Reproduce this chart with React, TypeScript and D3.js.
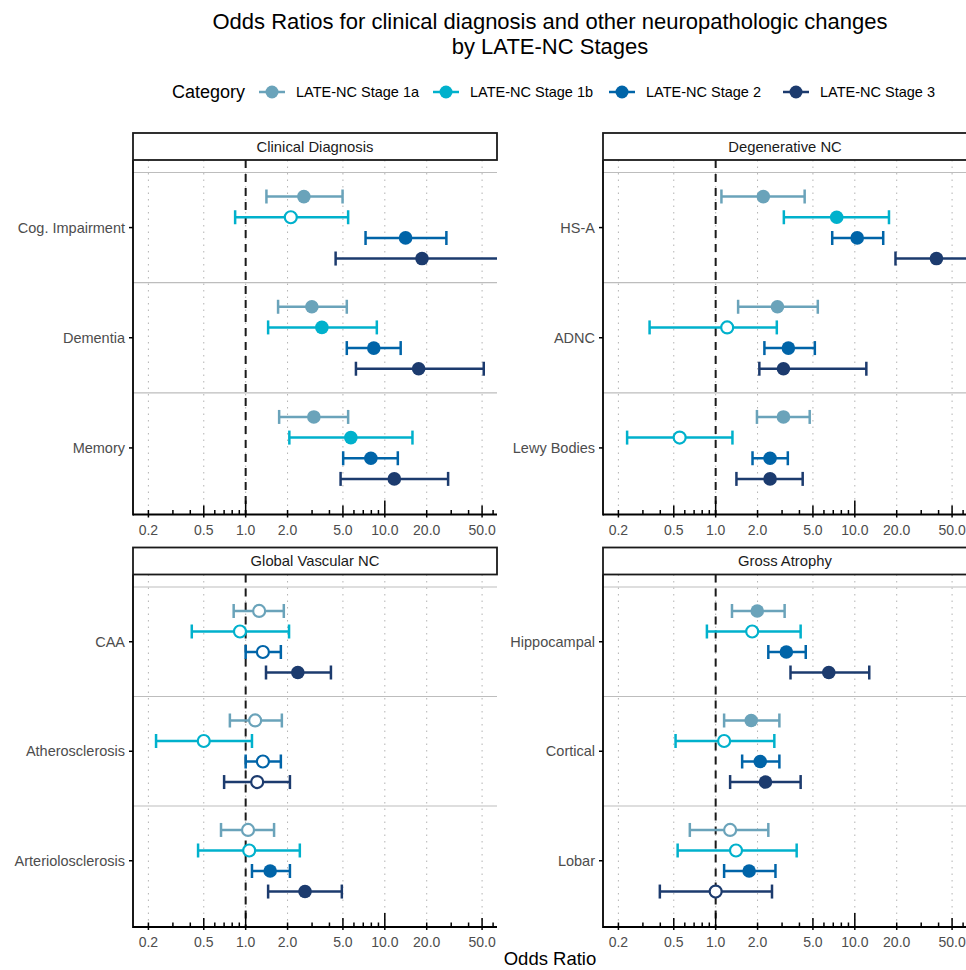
import React, { useEffect, useRef } from 'react';
import * as d3 from 'd3';

const stages = ['LATE-NC Stage 1a', 'LATE-NC Stage 1b', 'LATE-NC Stage 2', 'LATE-NC Stage 3'];
const stageColors = ['#6aa3ba', '#00b1cc', '#0064a8', '#1c3b6e'];

const panelTitles = ['Clinical Diagnosis', 'Degenerative NC', 'Global Vascular NC', 'Gross Atrophy'];

// Clinical Diagnosis
const clinicalCats = ['Cog. Impairment', 'Dementia', 'Memory'];
const clinicalOR = [[2.62, 2.11, 14.1, 18.5], [2.99, 3.53, 8.33, 17.5], [3.09, 5.7, 7.94, 11.7]];
const clinicalLo = [[1.41, 0.84, 7.27, 4.43], [1.71, 1.45, 5.33, 6.2], [1.74, 2.06, 5.02, 4.81]];
const clinicalHi = [[4.97, 5.45, 27.7, 80], [5.33, 8.76, 13.0, 51.4], [5.45, 15.8, 12.4, 28.5]];
const clinicalSig = [[true, false, true, true], [true, true, true, true], [true, true, true, true]];

// Degenerative NC
const degenCats = ['HS-A', 'ADNC', 'Lewy Bodies'];
const degenOR = [[2.2, 7.41, 10.4, 38.6], [2.78, 1.21, 3.33, 3.07], [3.07, 0.551, 2.46, 2.46]];
const degenLo = [[1.1, 3.09, 6.88, 19.6], [1.45, 0.335, 2.24, 2.06], [1.98, 0.231, 1.84, 1.41]];
const degenHi = [[4.36, 17.6, 16.0, 100], [5.42, 2.75, 5.16, 12.1], [4.74, 1.32, 3.3, 4.22]];
const degenSig = [[true, true, true, true], [true, false, true, true], [true, false, true, true]];

// Global Vascular NC
const vascCats = ['CAA', 'Atherosclerosis', 'Arteriolosclerosis'];
const vascOR = [[1.25, 0.91, 1.33, 2.37], [1.17, 0.5, 1.33, 1.21], [1.04, 1.06, 1.5, 2.67]];
const vascLo = [[0.82, 0.41, 1.0, 1.4], [0.77, 0.227, 1.0, 0.7], [0.665, 0.455, 1.11, 1.45]];
const vascHi = [[1.88, 2.05, 1.79, 4.1], [1.82, 1.11, 1.79, 2.08], [1.6, 2.45, 2.08, 4.91]];
const vascSig = [[false, false, false, true], [false, false, false, false], [false, false, true, true]];

// Gross Atrophy
const atrophyCats = ['Hippocampal', 'Cortical', 'Lobar'];
const atrophyOR = [[1.99, 1.83, 3.22, 6.5], [1.8, 1.15, 2.09, 2.28], [1.27, 1.4, 1.74, 1.0]];
const atrophyLo = [[1.31, 0.865, 2.39, 3.45], [1.15, 0.515, 1.55, 1.27], [0.652, 0.533, 1.15, 0.397]];
const atrophyHi = [[3.13, 4.08, 4.44, 12.7], [2.87, 2.64, 2.87, 4.08], [2.39, 3.82, 2.69, 2.54]];
const atrophySig = [[true, false, true, true], [true, false, true, true], [false, false, true, false]];

const xBreaks = [0.2, 0.5, 1, 2, 5, 10, 20, 50];
const xBreakLabels = ['0.2', '0.5', '1.0', '2.0', '5.0', '10.0', '20.0', '50.0'];

const panels = [
  { title: panelTitles[0], cats: clinicalCats, or: clinicalOR, lo: clinicalLo, hi: clinicalHi, sig: clinicalSig },
  { title: panelTitles[1], cats: degenCats, or: degenOR, lo: degenLo, hi: degenHi, sig: degenSig },
  { title: panelTitles[2], cats: vascCats, or: vascOR, lo: vascLo, hi: vascHi, sig: vascSig },
  { title: panelTitles[3], cats: atrophyCats, or: atrophyOR, lo: atrophyLo, hi: atrophyHi, sig: atrophySig },
];

const FONT = '"Liberation Sans", Arial, Helvetica, sans-serif';

const App = () => {
  const ref = useRef<SVGSVGElement>(null);

  useEffect(() => {
    if (!ref.current) return;
    const svg = d3.select(ref.current);
    svg.selectAll('*').remove();

    const width = 966,
      panelW = 364,
      stripH = 27;

    const boxes = [
      { x0: 133, y0: 160, y1: 514.5 },
      { x0: 603, y0: 160, y1: 514.5 },
      { x0: 133, y0: 574.5, y1: 927 },
      { x0: 603, y0: 574.5, y1: 927 },
    ];

    // Title
    const title = svg.append('text').attr('font-family', FONT).attr('font-size', 22).attr('fill', '#000').attr('text-anchor', 'middle');
    title.append('tspan').attr('x', 550).attr('y', 29).text('Odds Ratios for clinical diagnosis and other neuropathologic changes');
    title.append('tspan').attr('x', 550).attr('y', 54).text('by LATE-NC Stages');

    // Legend
    const legY = 92;
    svg.append('text').attr('x', 172).attr('y', legY + 6).attr('font-family', FONT).attr('font-size', 18).text('Category');
    const keyX = [272, 446, 622, 796];
    stages.forEach((s, i) => {
      const g = svg.append('g').attr('transform', `translate(${keyX[i]},${legY})`);
      g.append('line').attr('x1', -13).attr('x2', 13).attr('stroke', stageColors[i]).attr('stroke-width', 2.5);
      g.append('circle').attr('r', 6.5).attr('fill', stageColors[i]);
      g.append('text').attr('x', 24).attr('y', 5).attr('font-family', FONT).attr('font-size', 14.5).text(s);
    });

    panels.forEach((p, pi) => {
      const b = boxes[pi];
      const x = d3.scaleLog().domain([0.155, 64]).range([b.x0, b.x0 + panelW]);
      const y = d3.scaleBand().domain(p.cats).range([b.y0 + 12.5, b.y1 - 11.5]);
      const dodge = d3
        .scaleBand()
        .domain(stages)
        .range([y.bandwidth() * 0.125, y.bandwidth() * 0.875]);
      const yPos = (c: string, s: string) => (y(c) as number) + (dodge(s) as number) + dodge.bandwidth() / 2;

      const clipId = `clip${pi}`;
      svg
        .append('clipPath')
        .attr('id', clipId)
        .append('rect')
        .attr('x', b.x0)
        .attr('y', b.y0)
        .attr('width', panelW)
        .attr('height', b.y1 - b.y0);

      const g = svg.append('g').attr('clip-path', `url(#${clipId})`);

      // dotted grid
      xBreaks.forEach((v) => {
        g.append('line')
          .attr('x1', x(v))
          .attr('x2', x(v))
          .attr('y1', b.y0)
          .attr('y2', b.y1)
          .attr('stroke', '#b3b3b3')
          .attr('stroke-width', 1)
          .attr('stroke-dasharray', '1.5,5');
      });

      // category separators
      p.cats.forEach((c) => {
        g.append('line')
          .attr('x1', b.x0)
          .attr('x2', b.x0 + panelW)
          .attr('y1', y(c) as number)
          .attr('y2', y(c) as number)
          .attr('stroke', '#bdbdbd')
          .attr('stroke-width', 1.2);
      });

      // reference line at 1
      g.append('line')
        .attr('x1', x(1))
        .attr('x2', x(1))
        .attr('y1', b.y0)
        .attr('y2', b.y1)
        .attr('stroke', '#1a1a1a')
        .attr('stroke-width', 2)
        .attr('stroke-dasharray', '8,6');

      // error bars and points
      p.cats.forEach((c, ci) => {
        stages.forEach((s, si) => {
          const yy = yPos(c, s);
          const col = stageColors[si];
          const lo = x(p.lo[ci][si]);
          const hi = x(p.hi[ci][si]);
          g.append('line').attr('x1', lo).attr('x2', hi).attr('y1', yy).attr('y2', yy).attr('stroke', col).attr('stroke-width', 2.5);
          [lo, hi].forEach((cx) => {
            g.append('line').attr('x1', cx).attr('x2', cx).attr('y1', yy - 7).attr('y2', yy + 7).attr('stroke', col).attr('stroke-width', 2.5);
          });
          const filled = p.sig[ci][si];
          g.append('circle')
            .attr('cx', x(p.or[ci][si]))
            .attr('cy', yy)
            .attr('r', filled ? 6.8 : 6)
            .attr('fill', filled ? col : '#fff')
            .attr('stroke', col)
            .attr('stroke-width', filled ? 0 : 2.2);
        });
      });

      // log ticks inside the panel
      const logTicks: number[] = [];
      [0.1, 1, 10, 100].forEach((d) => {
        for (let k = 1; k <= 9; k++) logTicks.push(k * d);
      });
      logTicks
        .filter((v) => x(v) >= b.x0 && x(v) <= b.x0 + panelW)
        .forEach((v) => {
          const m = Math.round(v / Math.pow(10, Math.floor(Math.log10(v) + 1e-9)));
          const len = m === 1 ? 14 : m === 5 ? 9 : 4.5;
          g.append('line')
            .attr('x1', x(v))
            .attr('x2', x(v))
            .attr('y1', b.y1)
            .attr('y2', b.y1 - len)
            .attr('stroke', '#000')
            .attr('stroke-width', 1.5);
        });

      // x axis
      svg
        .append('line')
        .attr('x1', b.x0)
        .attr('x2', Math.min(b.x0 + panelW, width + 2))
        .attr('y1', b.y1)
        .attr('y2', b.y1)
        .attr('stroke', '#000')
        .attr('stroke-width', 1.8);
      xBreaks.forEach((v, i) => {
        svg.append('line').attr('x1', x(v)).attr('x2', x(v)).attr('y1', b.y1).attr('y2', b.y1 + 3).attr('stroke', '#000').attr('stroke-width', 1.5);
        svg
          .append('text')
          .attr('x', x(v))
          .attr('y', b.y1 + 20)
          .attr('text-anchor', 'middle')
          .attr('font-family', FONT)
          .attr('font-size', 14)
          .attr('fill', '#4d4d4d')
          .text(xBreakLabels[i]);
      });

      // y axis
      svg
        .append('line')
        .attr('x1', b.x0)
        .attr('x2', b.x0)
        .attr('y1', b.y0)
        .attr('y2', b.y1 + 0.9)
        .attr('stroke', '#000')
        .attr('stroke-width', 1.8);
      p.cats.forEach((c) => {
        const yc = (y(c) as number) + y.bandwidth() / 2;
        svg.append('line').attr('x1', b.x0 - 4).attr('x2', b.x0).attr('y1', yc).attr('y2', yc).attr('stroke', '#000').attr('stroke-width', 1.5);
        svg
          .append('text')
          .attr('x', b.x0 - 8)
          .attr('y', yc + 5)
          .attr('text-anchor', 'end')
          .attr('font-family', FONT)
          .attr('font-size', 14.5)
          .attr('fill', '#4d4d4d')
          .text(c);
      });

      // strip
      svg
        .append('rect')
        .attr('x', b.x0)
        .attr('y', b.y0 - stripH)
        .attr('width', panelW)
        .attr('height', stripH)
        .attr('fill', '#fff')
        .attr('stroke', '#1a1a1a')
        .attr('stroke-width', 1.8);
      svg
        .append('text')
        .attr('x', b.x0 + panelW / 2)
        .attr('y', b.y0 - stripH / 2 + 5)
        .attr('text-anchor', 'middle')
        .attr('font-family', FONT)
        .attr('font-size', 14.8)
        .attr('fill', '#1a1a1a')
        .text(p.title);
    });

    // x axis title
    svg
      .append('text')
      .attr('x', 550)
      .attr('y', 965)
      .attr('text-anchor', 'middle')
      .attr('font-family', FONT)
      .attr('font-size', 18.5)
      .attr('fill', '#000')
      .text('Odds Ratio');
  }, []);

  return (
    <svg
      ref={ref}
      width={966}
      height={970}
      style={{ position: 'absolute', left: 0, top: 0, background: '#fff' }}
    />
  );
};

export default App;
